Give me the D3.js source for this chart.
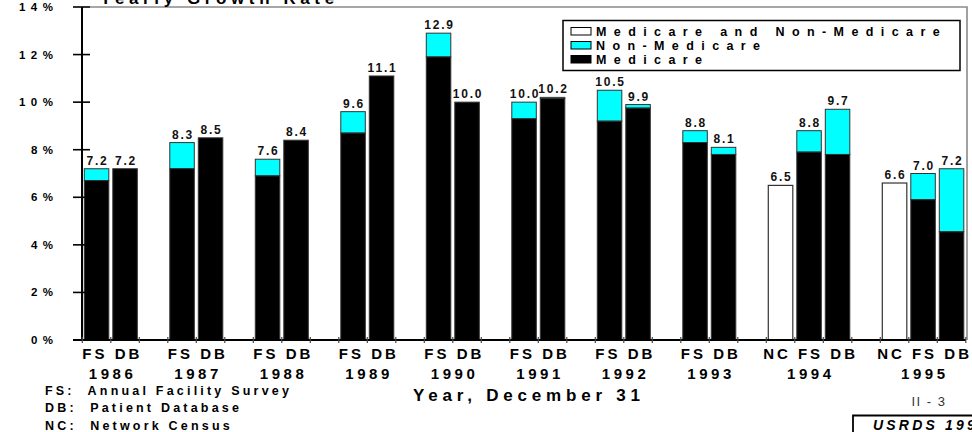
<!DOCTYPE html>
<html>
<head>
<meta charset="utf-8">
<script src="https://cdn.jsdelivr.net/npm/d3@7"></script>
<style>
  html, body { margin: 0; padding: 0; background: #fff; overflow: hidden; }
  svg { display: block; font-family: "Liberation Sans", Arial, sans-serif; }
  text { white-space: pre; }
</style>
</head>
<body>
<svg id="chart" width="972" height="432"></svg>
<script>
// Yearly growth rate of the ESRD population, by data source
const years = ["1986", "1987", "1988", "1989", "1990", "1991", "1992", "1993", "1994", "1995"];
const barYear = ["1986", "1986", "1987", "1987", "1988", "1988", "1989", "1989", "1990", "1990",
                 "1991", "1991", "1992", "1992", "1993", "1993", "1994", "1994", "1994",
                 "1995", "1995", "1995"];
const barSource = ["FS", "DB", "FS", "DB", "FS", "DB", "FS", "DB", "FS", "DB",
                   "FS", "DB", "FS", "DB", "FS", "DB", "NC", "FS", "DB",
                   "NC", "FS", "DB"];
// total growth (%) shown above each bar
const totalRate = [7.2, 7.2, 8.3, 8.5, 7.6, 8.4, 9.6, 11.1, 12.9, 10.0,
                   10.0, 10.2, 10.5, 9.9, 8.8, 8.1, 6.5, 8.8, 9.7,
                   6.6, 7.0, 7.2];
// Medicare portion (%); null where the source does not split the population
const medicareRate = [6.7, 7.2, 7.2, 8.5, 6.9, 8.4, 8.7, 11.1, 11.9, 10.0,
                      9.3, 10.15, 9.2, 9.75, 8.3, 7.8, null, 7.9, 7.8,
                      null, 5.9, 4.55];
const yTicks = [0, 2, 4, 6, 8, 10, 12, 14];
const legendLabels = ["Medicare and Non-Medicare", "Non-Medicare", "Medicare"];
const sourceNotes = ["FS:  Annual Facility Survey", "DB:  Patient Database", "NC:  Network Census"];

const COLORS = { both: "#ffffff", non: "#00ffff", med: "#000000" };

const svg = d3.select("#chart");

const bars = barYear.map((yr, i) => ({
  id: yr + "-" + barSource[i], year: yr, source: barSource[i],
  total: totalRate[i], medicare: medicareRate[i]
}));

// band slots: bars of each year, with an empty slot between years
const slots = [];
years.forEach((yr, i) => {
  if (i > 0) slots.push("gap-" + yr);
  bars.filter(b => b.year === yr).forEach(b => slots.push(b.id));
});

const x = d3.scaleBand().domain(slots).range([82.3, 965.8]).paddingInner(0.14).paddingOuter(0.07);
const y = d3.scaleLinear().domain([0, 14]).range([340, 7]);
const halfGap = (x.step() - x.bandwidth()) / 2;

const groupCenter = yr => {
  const ids = bars.filter(b => b.year === yr).map(b => b.id);
  return (x(ids[0]) + x(ids[ids.length - 1]) + x.bandwidth()) / 2;
};

// plot frame (top and right)
svg.append("path")
  .attr("d", `M90,${y(14)}H967V${y(0)}`)
  .attr("fill", "none").attr("stroke", "#8a8a8a").attr("stroke-width", 1.6);

// title, partly above the page edge
svg.append("text")
  .attr("x", 100).attr("y", 3.5)
  .attr("font-size", 17).attr("font-weight", "bold").attr("letter-spacing", 4.6)
  .text("Yearly Growth Rate");

// bars
const g = svg.append("g");
bars.forEach(b => {
  const bx = x(b.id), bw = x.bandwidth();
  if (b.medicare === null) {
    g.append("rect").attr("x", bx).attr("y", y(b.total))
      .attr("width", bw).attr("height", y(0) - y(b.total))
      .attr("fill", COLORS.both).attr("stroke", "#333").attr("stroke-width", 1.2);
  } else {
    if (b.total > b.medicare) {
      g.append("rect").attr("x", bx).attr("y", y(b.total))
        .attr("width", bw).attr("height", y(b.medicare) - y(b.total))
        .attr("fill", COLORS.non).attr("stroke", "#333").attr("stroke-width", 1);
    }
    g.append("rect").attr("x", bx).attr("y", y(b.medicare))
      .attr("width", bw).attr("height", y(0) - y(b.medicare))
      .attr("fill", COLORS.med).attr("stroke", "#333").attr("stroke-width", 1);
  }
});

// value labels
svg.append("g").selectAll("text").data(bars).join("text")
  .attr("x", d => x(d.id) + x.bandwidth() / 2 + 1)
  .attr("y", d => y(d.total) - 4)
  .attr("text-anchor", "middle")
  .attr("font-size", 12).attr("font-weight", "bold").attr("letter-spacing", 1.8)
  .attr("fill", "#111")
  .text(d => d.total.toFixed(1));

// y axis
const yAxis = svg.append("g");
yAxis.append("line").attr("x1", 82).attr("x2", 82).attr("y1", y(14)).attr("y2", y(0))
  .attr("stroke", "#000").attr("stroke-width", 2);
yAxis.selectAll("line.tick").data(yTicks).join("line").attr("class", "tick")
  .attr("x1", 73).attr("x2", 90).attr("y1", d => y(d)).attr("y2", d => y(d))
  .attr("stroke", "#000").attr("stroke-width", 1.6);
yAxis.selectAll("text").data(yTicks).join("text")
  .attr("x", 53 + 5.5).attr("y", d => y(d) + 4)
  .attr("text-anchor", "end")
  .attr("font-size", 11.5).attr("font-weight", "bold").attr("letter-spacing", 5.5)
  .text(d => d + "%");

// x axis with ticks at every slot boundary
const xAxis = svg.append("g");
xAxis.append("line").attr("x1", 73).attr("x2", 966).attr("y1", y(0)).attr("y2", y(0))
  .attr("stroke", "#000").attr("stroke-width", 2);
const bounds = slots.map(s => x(s) - halfGap).concat([x(slots[slots.length - 1]) + x.bandwidth() + halfGap]);
xAxis.selectAll("line.tick").data(bounds).join("line").attr("class", "tick")
  .attr("x1", d => d).attr("x2", d => d).attr("y1", y(0) - 3).attr("y2", y(0) + 3)
  .attr("stroke", "#444").attr("stroke-width", 1.2);

// source labels of each year group ("FS DB", "NC FS DB")
xAxis.selectAll("text.src").data(years).join("text").attr("class", "src")
  .attr("x", yr => groupCenter(yr) + 1.5)
  .attr("y", 359)
  .attr("text-anchor", "middle")
  .attr("font-size", 15).attr("font-weight", "bold").attr("letter-spacing", 3)
  .text(yr => bars.filter(b => b.year === yr).map(b => b.source).join(" "));

// year labels centred under each group
xAxis.selectAll("text.yr").data(years).join("text").attr("class", "yr")
  .attr("x", yr => groupCenter(yr) + 1.8)
  .attr("y", 379)
  .attr("text-anchor", "middle")
  .attr("font-size", 15).attr("font-weight", "bold").attr("letter-spacing", 3.6)
  .text(yr => yr);

// axis title
svg.append("text")
  .attr("x", 413).attr("y", 400.5)
  .attr("font-size", 17).attr("font-weight", "bold").attr("letter-spacing", 4.8)
  .text("Year, December 31");

// legend
const legend = svg.append("g");
legend.append("rect").attr("x", 563).attr("y", 20.5).attr("width", 397).attr("height", 50)
  .attr("fill", "#fff").attr("stroke", "#000").attr("stroke-width", 1.5);
const legendFill = [COLORS.both, COLORS.non, COLORS.med];
legendLabels.forEach((lab, i) => {
  legend.append("rect").attr("x", 571).attr("y", 27.5 + i * 14).attr("width", 20).attr("height", 7.5)
    .attr("fill", legendFill[i]).attr("stroke", "#000").attr("stroke-width", 1);
  legend.append("text").attr("x", 596).attr("y", 35.5 + i * 14)
    .attr("font-size", 12.5).attr("font-weight", "bold").attr("letter-spacing", 7.4)
    .text(lab);
});

// source notes
svg.append("g").selectAll("text").data(sourceNotes).join("text")
  .attr("x", 45).attr("y", (d, i) => 394.5 + i * 17.5)
  .attr("font-size", 12.5).attr("font-weight", "bold").attr("letter-spacing", 3.2)
  .text(d => d);

// page number and report tag
svg.append("text").attr("x", 929).attr("y", 406).attr("text-anchor", "middle")
  .attr("font-size", 13).attr("fill", "#333").attr("letter-spacing", 1.5).text("II - 3");
svg.append("path").attr("d", "M853,432V415.5H972")
  .attr("fill", "none").attr("stroke", "#000").attr("stroke-width", 1.8);
svg.append("text").attr("x", 873).attr("y", 430)
  .attr("font-size", 14).attr("font-weight", "bold").attr("font-style", "italic")
  .attr("letter-spacing", 3.2).text("USRDS 1997");
</script>
</body>
</html>
